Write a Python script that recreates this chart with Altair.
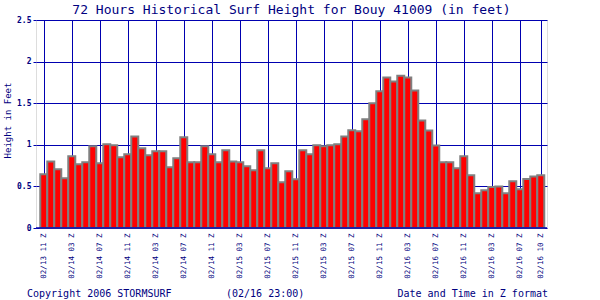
import altair as alt
import pandas as pd

# ---- data ----
heights = [
    0.645, 0.80, 0.706, 0.597, 0.862, 0.766, 0.79, 0.982, 0.778, 1.006,
    0.994, 0.85, 0.886, 1.10, 0.958, 0.874, 0.922, 0.922, 0.73, 0.838,
    1.09, 0.79, 0.79, 0.982, 0.886, 0.79, 0.934, 0.80, 0.79, 0.742,
    0.694, 0.934, 0.718, 0.778, 0.549, 0.682, 0.585, 0.934, 0.886, 0.994,
    0.982, 0.994, 1.006, 1.10, 1.176, 1.164, 1.308, 1.50, 1.645, 1.81,
    1.76, 1.83, 1.81, 1.653, 1.293, 1.173, 0.993, 0.789, 0.789, 0.717,
    0.861, 0.633, 0.417, 0.453, 0.492, 0.50, 0.417, 0.561, 0.465, 0.588,
    0.62, 0.633,
]
hours = list(range(len(heights)))

tick_hours = [0, 4, 8, 12, 16, 20, 24, 28, 32, 36, 40, 44, 48, 52, 56, 60, 64, 68, 71]
tick_labels = [
    "02/13 11", "02/14 03", "02/14 07", "02/14 11", "02/14 03", "02/14 07",
    "02/14 11", "02/15 03", "02/15 07", "02/15 11", "02/15 03", "02/15 07",
    "02/15 11", "02/16 03", "02/16 07", "02/16 11", "02/16 03", "02/16 07",
    "02/16 10",
]
y_ticks = [0, 0.5, 1, 1.5, 2, 2.5]

title_text = "72 Hours Historical Surf Height for Bouy 41009 (in feet)"
y_title = "Height in Feet"
copyright_text = "Copyright 2006 STORMSURF"
stamp_text = "(02/16 23:00)"
x_title = "Date and Time in Z format"

NAVY = "#0000B0"
TEXT = "#000080"
FONT = "DejaVu Sans Mono"

df = pd.DataFrame({"hour": hours, "height": heights})

tick_vals = [h + 0.5 for h in tick_hours]
label_expr = (
    "[" + ",".join(f"'{l} Z'" for l in tick_labels) + "]"
    + "[indexof([" + ",".join(str(v) for v in tick_vals) + "], datum.value)]"
)

xscale = alt.Scale(domain=[-0.61, 72.39], nice=False, zero=False)
yscale = alt.Scale(domain=[0, 2.5], nice=False)

y_axis = alt.Axis(
    values=y_ticks,
    format="~g",
    labelFont=FONT,
    labelFontSize=8,
    labelFontWeight="bold",
    labelColor=TEXT,
    labelPadding=2,
    tickSize=3,
    tickColor=NAVY,
    grid=True,
    gridColor=NAVY,
    gridWidth=1,
    gridOpacity=1,
    domain=False,
    title=y_title,
    titleFont=FONT,
    titleFontSize=9,
    titleFontWeight="normal",
    titleColor=TEXT,
    titleAngle=270,
    titleAlign="center",
    titleBaseline="middle",
    titleX=-29,
    titleY=100,
)

bars = (
    alt.Chart(df)
    .transform_calculate(hour_end="datum.hour + 1", base="0")
    .mark_bar(color="#FF0000", stroke="#808080", strokeWidth=2)
    .encode(
        x=alt.X(
            "hour:Q",
            scale=xscale,
            axis=alt.Axis(
                values=tick_vals,
                labelExpr=label_expr,
                labelAngle=270,
                labelAlign="right",
                labelBaseline="middle",
                labelFont=FONT,
                labelFontSize=7.5,
                labelColor=TEXT,
                labelPadding=5,
                grid=True,
                gridColor=NAVY,
                gridWidth=1,
                gridOpacity=1,
                ticks=False,
                domain=False,
                title=None,
                labelOverlap=False,
            ),
        ),
        x2="hour_end:Q",
        y=alt.Y("height:Q", stack=None, scale=yscale, axis=y_axis),
        y2="base:Q",
    )
)

baseline = alt.Chart(pd.DataFrame({"height": [0]})).mark_rule(color=NAVY, strokeWidth=1.5).encode(
    y=alt.Y("height:Q", scale=yscale, axis=y_axis)
)

def label(text, x, y, align, size=10):
    return alt.Chart(pd.DataFrame({"t": [text]})).mark_text(
        font=FONT, fontSize=size, color=TEXT, align=align, baseline="alphabetic"
    ).encode(text="t:N", x=alt.value(x), y=alt.value(y))

chart = (
    alt.layer(
        bars,
        baseline,
        label(title_text, 255.5, -6, "center", 13),
        label(copyright_text, -9, 277, "left"),
        label(stamp_text, 190, 277, "left"),
        label(x_title, 512, 277, "right"),
    )
    .properties(
        width=511,
        height=208,
        autosize=alt.AutoSizeParams(type="none"),
        padding={"left": 36, "top": 20, "right": 53, "bottom": 72},
    )
    .configure_view(stroke=NAVY, strokeWidth=1.5)
    .configure(background="white")
)

chart.save("out.html", embed_options={"renderer": "svg", "actions": False})
